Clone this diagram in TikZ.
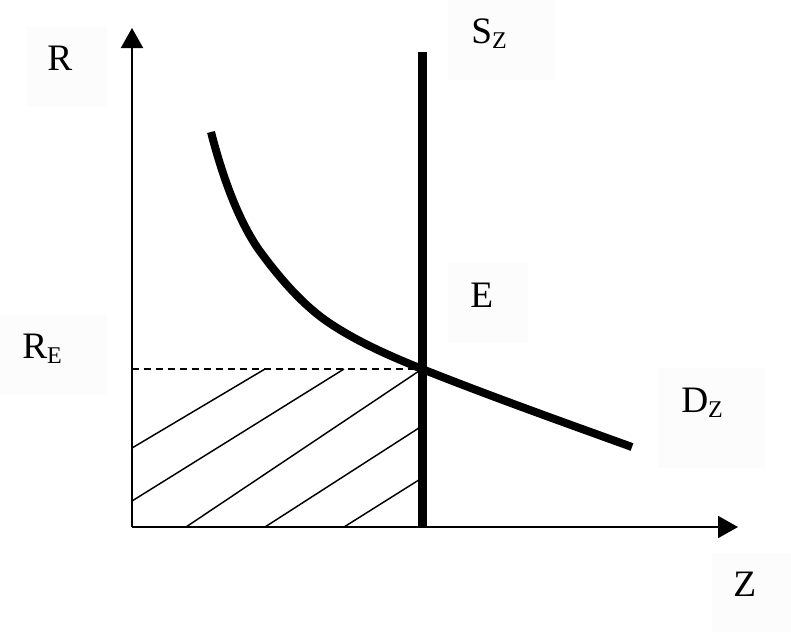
\documentclass[tikz,border=0pt]{standalone}
\usepackage{fontspec}
\setmainfont{Liberation Serif}
\usetikzlibrary{arrows.meta}
\begin{document}
\begin{tikzpicture}[x=0.75pt,y=-0.75pt,
  lbl/.style={inner sep=0pt,anchor=base west,font=\fontsize{28}{30}\selectfont},
  bg/.style={fill=black!1,draw=none},
  axis/.style={line width=1.5pt,-{Triangle[length=15pt,width=16.5pt]}},
  hatch/.style={line width=1.1pt}]
\useasboundingbox (0,0) rectangle (791,632);
\newcommand{\sbz}[1]{\raisebox{-3.75pt}{\fontsize{18}{19}\selectfont #1}}
% label backgrounds
\fill[bg] (27,27) rectangle (107,107);
\fill[bg] (448,0) rectangle (555,80);
\fill[bg] (0,315) rectangle (107,395);
\fill[bg] (448,263) rectangle (528,343);
\fill[bg] (658,368) rectangle (765,468);
\fill[bg] (712,553) rectangle (791,632);
% coordinates
\coordinate (O) at (132,527);
\coordinate (Ytop) at (132,28);
\coordinate (Xend) at (738,527);
\coordinate (E) at (422,369);
\coordinate (Stop) at (422,52);
\coordinate (Sbot) at (422,527);
\coordinate (RE) at (132,369);
\coordinate (D0) at (211,132);
\coordinate (D1) at (259,250);
\coordinate (D2) at (325,320);
\coordinate (D3) at (632,447);
% hatching
\draw[hatch] (132,448) -- (265,369);
\draw[hatch] (132,501) -- (344,369);
\draw[hatch] (186,527) -- (E);
\draw[hatch] (265,527) -- (422,426);
\draw[hatch] (344,527) -- (422,478);
% dashed line
\draw[line width=1.1pt,dash pattern=on 5.5pt off 3.5pt] (RE) -- (E);
% axes
\draw[axis] (O) -- (Ytop);
\draw[axis] (O) -- (Xend);
% supply
\draw[line width=6.75pt] (Sbot) -- (Stop);
% demand
\draw[line width=6pt] (D0) .. controls (222,175) and (238,220) .. (D1)
  .. controls (278,276) and (300,302) .. (D2)
  .. controls (355,341) and (390,356) .. (E)
  .. controls (490,396) and (560,421) .. (D3);
% labels
\node[lbl] (lR) at (47,70) {R};
\node[lbl] (lS) at (471,43) {S\sbz{Z}};
\node[lbl] (lRE) at (22,358) {R\sbz{E}};
\node[lbl] (lE) at (470,307) {E};
\node[lbl] (lD) at (681,412) {D\sbz{Z}};
\node[lbl] (lZ) at (733,596) {Z};
\end{tikzpicture}
\end{document}
